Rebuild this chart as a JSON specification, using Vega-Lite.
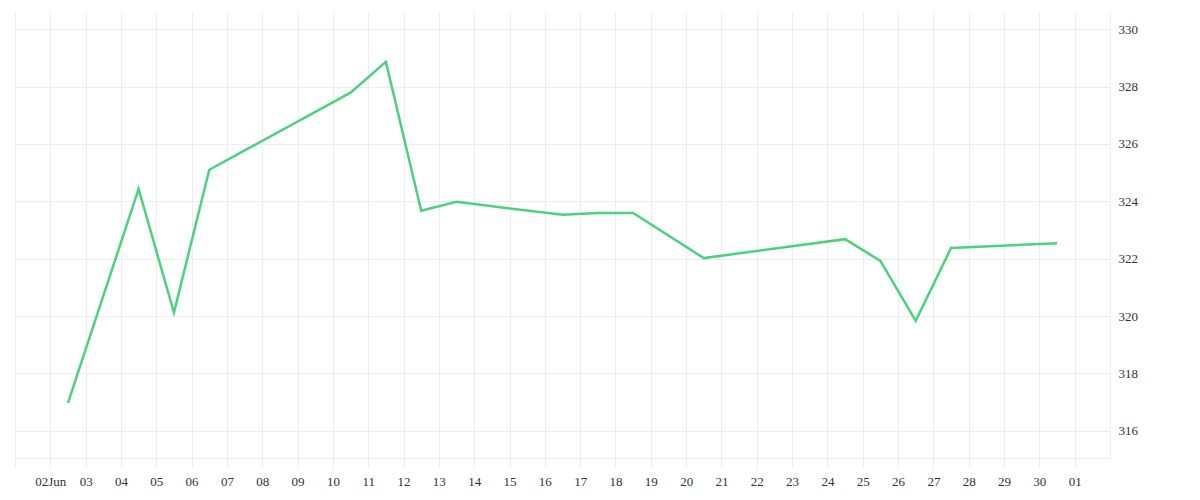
{
  "$schema": "https://vega.github.io/schema/vega-lite/v6.json",
  "width": 1095,
  "height": 446,
  "autosize": "none",
  "padding": {"left": 15, "top": 12, "right": 90, "bottom": 42},
  "background": "white",
  "config": {
    "view": {"stroke": null},
    "axis": {"labelFont": "Liberation Serif", "labelFontSize": 13, "labelColor": "#333333"}
  },
  "data": {
    "values": [
      {"date": "2023-06-02T12:00:00Z", "value": 316.97},
      {"date": "2023-06-04T12:00:00Z", "value": 324.43},
      {"date": "2023-06-05T12:00:00Z", "value": 320.12},
      {"date": "2023-06-06T12:00:00Z", "value": 325.1},
      {"date": "2023-06-10T12:00:00Z", "value": 327.79},
      {"date": "2023-06-11T12:00:00Z", "value": 328.86},
      {"date": "2023-06-12T12:00:00Z", "value": 323.67},
      {"date": "2023-06-13T12:00:00Z", "value": 323.98},
      {"date": "2023-06-16T12:00:00Z", "value": 323.53},
      {"date": "2023-06-17T12:00:00Z", "value": 323.59},
      {"date": "2023-06-18T12:00:00Z", "value": 323.59},
      {"date": "2023-06-20T12:00:00Z", "value": 322.02},
      {"date": "2023-06-24T12:00:00Z", "value": 322.68},
      {"date": "2023-06-25T12:00:00Z", "value": 321.92},
      {"date": "2023-06-26T12:00:00Z", "value": 319.83},
      {"date": "2023-06-27T12:00:00Z", "value": 322.37},
      {"date": "2023-06-30T12:00:00Z", "value": 322.54}
    ]
  },
  "mark": {"type": "line", "color": "#4cd27f", "strokeWidth": 2.5, "interpolate": "linear"},
  "encoding": {
    "x": {
      "field": "date",
      "type": "temporal",
      "scale": {"type": "utc", "domain": [{"year": 2023, "month": 6, "date": 1, "utc": true}, {"year": 2023, "month": 7, "date": 2, "utc": true}], "nice": false},
      "axis": {
        "title": null,
        "values": [
          {"year": 2023, "month": 6, "date": 1, "utc": true},
          {"year": 2023, "month": 6, "date": 2, "utc": true},
          {"year": 2023, "month": 6, "date": 3, "utc": true},
          {"year": 2023, "month": 6, "date": 4, "utc": true},
          {"year": 2023, "month": 6, "date": 5, "utc": true},
          {"year": 2023, "month": 6, "date": 6, "utc": true},
          {"year": 2023, "month": 6, "date": 7, "utc": true},
          {"year": 2023, "month": 6, "date": 8, "utc": true},
          {"year": 2023, "month": 6, "date": 9, "utc": true},
          {"year": 2023, "month": 6, "date": 10, "utc": true},
          {"year": 2023, "month": 6, "date": 11, "utc": true},
          {"year": 2023, "month": 6, "date": 12, "utc": true},
          {"year": 2023, "month": 6, "date": 13, "utc": true},
          {"year": 2023, "month": 6, "date": 14, "utc": true},
          {"year": 2023, "month": 6, "date": 15, "utc": true},
          {"year": 2023, "month": 6, "date": 16, "utc": true},
          {"year": 2023, "month": 6, "date": 17, "utc": true},
          {"year": 2023, "month": 6, "date": 18, "utc": true},
          {"year": 2023, "month": 6, "date": 19, "utc": true},
          {"year": 2023, "month": 6, "date": 20, "utc": true},
          {"year": 2023, "month": 6, "date": 21, "utc": true},
          {"year": 2023, "month": 6, "date": 22, "utc": true},
          {"year": 2023, "month": 6, "date": 23, "utc": true},
          {"year": 2023, "month": 6, "date": 24, "utc": true},
          {"year": 2023, "month": 6, "date": 25, "utc": true},
          {"year": 2023, "month": 6, "date": 26, "utc": true},
          {"year": 2023, "month": 6, "date": 27, "utc": true},
          {"year": 2023, "month": 6, "date": 28, "utc": true},
          {"year": 2023, "month": 6, "date": 29, "utc": true},
          {"year": 2023, "month": 6, "date": 30, "utc": true},
          {"year": 2023, "month": 7, "date": 1, "utc": true}
        ],
        "labelExpr": "utcdate(datum.value) == 1 && utcmonth(datum.value) == 5 ? '' : (utcdate(datum.value) == 2 && utcmonth(datum.value) == 5 ? '02Jun' : utcFormat(datum.value, '%d'))",
        "labelOverlap": false,
        "labelFlush": false,
        "labelPadding": 7,
        "grid": true,
        "gridColor": "#ededed",
        "gridWidth": 1,
        "domainColor": "#ededed",
        "tickColor": "#ededed",
        "tickSize": 10
      }
    },
    "y": {
      "field": "value",
      "type": "quantitative",
      "scale": {"domain": [315.05, 330.6], "nice": false, "zero": false},
      "axis": {
        "title": null,
        "orient": "right",
        "values": [316, 318, 320, 322, 324, 326, 328, 330],
        "grid": true,
        "gridColor": "#ededed",
        "domainColor": "#ededed",
        "ticks": false,
        "labelPadding": 8
      }
    }
  }
}
